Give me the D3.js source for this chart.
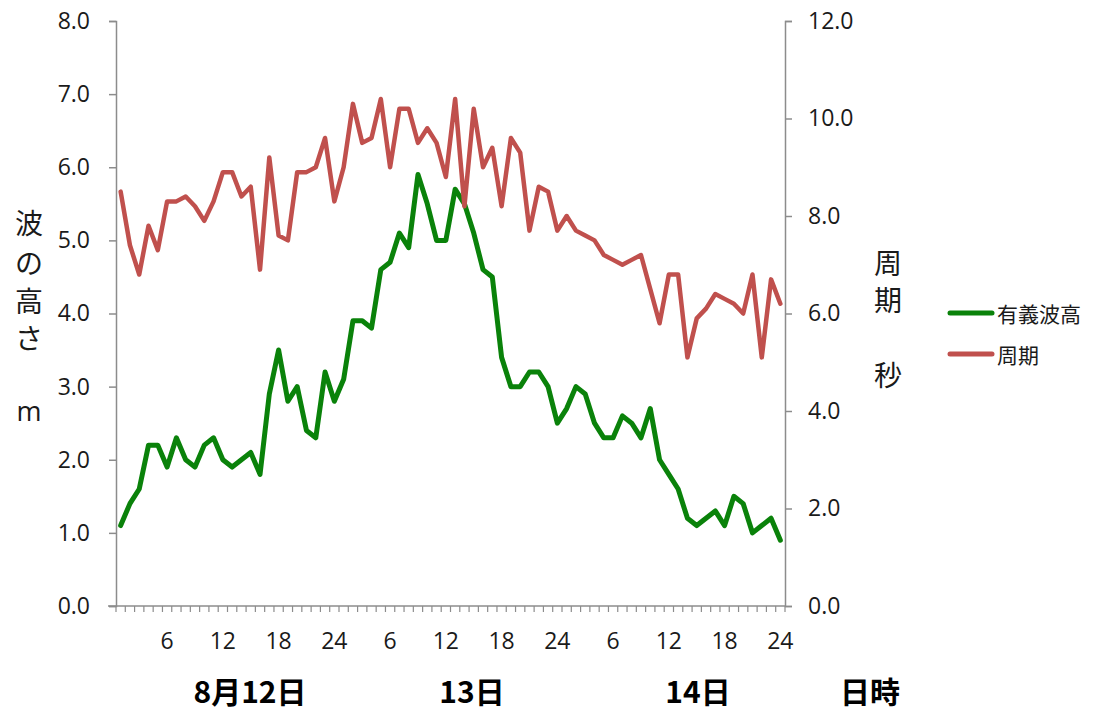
<!DOCTYPE html>
<html><head><meta charset="utf-8">
<script src="https://cdn.jsdelivr.net/npm/d3@7/dist/d3.min.js"></script>
<style>
html,body{margin:0;padding:0;background:#fff;}
svg{display:block;}
</style>
</head><body>
<svg id="chart" width="1101" height="713"></svg>
<script>
// hour of day for each hourly observation (3 days)
const hours = [1,2,3,4,5,6,7,8,9,10,11,12,13,14,15,16,17,18,19,20,21,22,23,24,
               1,2,3,4,5,6,7,8,9,10,11,12,13,14,15,16,17,18,19,20,21,22,23,24,
               1,2,3,4,5,6,7,8,9,10,11,12,13,14,15,16,17,18,19,20,21,22,23,24];
// significant wave height (m)
const waveHeight = [1.1,1.4,1.6,2.2,2.2,1.9,2.3,2.0,1.9,2.2,2.3,2.0,1.9,2.0,2.1,1.8,2.9,3.5,2.8,3.0,2.4,2.3,3.2,2.8,
                    3.1,3.9,3.9,3.8,4.6,4.7,5.1,4.9,5.9,5.5,5.0,5.0,5.7,5.5,5.1,4.6,4.5,3.4,3.0,3.0,3.2,3.2,3.0,2.5,
                    2.7,3.0,2.9,2.5,2.3,2.3,2.6,2.5,2.3,2.7,2.0,1.8,1.6,1.2,1.1,1.2,1.3,1.1,1.5,1.4,1.0,1.1,1.2,0.9];
// wave period (s)
const period = [8.5,7.4,6.8,7.8,7.3,8.3,8.3,8.4,8.2,7.9,8.3,8.9,8.9,8.4,8.6,6.9,9.2,7.6,7.5,8.9,8.9,9.0,9.6,8.3,
                9.0,10.3,9.5,9.6,10.4,9.0,10.2,10.2,9.5,9.8,9.5,8.8,10.4,8.2,10.2,9.0,9.4,8.2,9.6,9.3,7.7,8.6,8.5,7.7,
                8.0,7.7,7.6,7.5,7.2,7.1,7.0,7.1,7.2,6.5,5.8,6.8,6.8,5.1,5.9,6.1,6.4,6.3,6.2,6.0,6.8,5.1,6.7,6.2];
const leftTicks = [0,1,2,3,4,5,6,7,8];
const rightTicks = [0,2,4,6,8,10,12];
const hourLabels = [6,12,18,24];
const dayLabels = ["8月12日","13日","14日","日時"];
const seriesNames = ["有義波高","周期"];

const svg = d3.select("#chart");
const L = 116, R = 785, T = 21, B = 606;
const axisColor = "#8c8c8c";
const textColor = "#1a1a1a";
const numFont = "'Open Sans', 'Noto Sans', sans-serif";
const cjkFont = "'Noto Sans CJK JP', sans-serif";
const green = "#0a820a", red = "#c0504d";

const idx = d3.range(hours.length);
const x = d3.scaleBand().domain(idx).range([L, R]).paddingInner(0).paddingOuter(0);
const cx = i => x(i) + x.bandwidth() / 2;
const yL = d3.scaleLinear().domain([0, 8]).range([B, T]);
const yR = d3.scaleLinear().domain([0, 12]).range([B, T]);

// left axis
const gl = svg.append("g").attr("transform", `translate(${L},0)`)
  .call(d3.axisLeft(yL).tickValues(leftTicks).tickFormat(d3.format(".1f")).tickSize(7).tickPadding(19));
// right axis
const gr = svg.append("g").attr("transform", `translate(${R},0)`)
  .call(d3.axisRight(yR).tickValues(rightTicks).tickFormat(d3.format(".1f")).tickSize(7).tickPadding(16));
[gl, gr].forEach(g => {
  g.select(".domain").attr("stroke", axisColor).attr("stroke-width", 1.5);
  g.selectAll(".tick line").attr("stroke", axisColor).attr("stroke-width", 1.5);
  g.selectAll(".tick text").attr("fill", textColor).style("font-family", numFont).style("font-size", "23px");
});

// bottom axis: tick marks at category boundaries
const gb = svg.append("g").attr("transform", `translate(0,${B})`);
gb.append("line").attr("x1", L - 8).attr("x2", R).attr("y1", 0).attr("y2", 0)
  .attr("stroke", axisColor).attr("stroke-width", 1.5);
gb.selectAll("line.tk").data(idx.concat([idx.length])).enter().append("line").attr("class", "tk")
  .attr("x1", i => i < idx.length ? x(i) : R).attr("x2", i => i < idx.length ? x(i) : R)
  .attr("y1", 0).attr("y2", 6).attr("stroke", axisColor).attr("stroke-width", 1.2);
// hour labels
const gbl = svg.append("g").attr("transform", `translate(0,${B})`)
  .call(d3.axisBottom(x).tickSize(0).tickPadding(27)
    .tickFormat(i => hourLabels.includes(hours[i]) ? String(hours[i]) : ""));
gbl.select(".domain").remove();
gbl.selectAll(".tick text").attr("fill", textColor).style("font-family", numFont).style("font-size", "23px");

// lines
const lineL = d3.line().x((d, i) => cx(i)).y(d => yL(d));
const lineR = d3.line().x((d, i) => cx(i)).y(d => yR(d));
svg.append("path").datum(waveHeight).attr("d", lineL).attr("fill", "none")
  .attr("stroke", green).attr("stroke-width", 5).attr("stroke-linejoin", "round").attr("stroke-linecap", "round");
svg.append("path").datum(period).attr("d", lineR).attr("fill", "none")
  .attr("stroke", red).attr("stroke-width", 4.5).attr("stroke-linejoin", "round").attr("stroke-linecap", "round");

// axis titles
const leftTitle = [["波", 222], ["の", 262], ["高", 300], ["さ", 337]];
leftTitle.forEach(([c, yy]) => svg.append("text").attr("x", 29).attr("y", yy).attr("text-anchor", "middle")
  .attr("dominant-baseline", "central").style("font-family", cjkFont).style("font-size", "28px").attr("fill", textColor).text(c));
svg.append("text").attr("x", 29).attr("y", 410).attr("text-anchor", "middle").attr("dominant-baseline", "central")
  .style("font-family", numFont).style("font-size", "27px").attr("fill", textColor).text("m");
const rightTitle = [["周", 262], ["期", 299], ["秒", 374]];
rightTitle.forEach(([c, yy]) => svg.append("text").attr("x", 888).attr("y", yy).attr("text-anchor", "middle")
  .attr("dominant-baseline", "central").style("font-family", cjkFont).style("font-size", "28px").attr("fill", textColor).text(c));

// legend
const legend = [[seriesNames[0], green, 313], [seriesNames[1], red, 354]];
legend.forEach(([name, col, yy]) => {
  svg.append("line").attr("x1", 950).attr("x2", 992).attr("y1", yy).attr("y2", yy)
    .attr("stroke", col).attr("stroke-width", 5).attr("stroke-linecap", "round");
  svg.append("text").attr("x", 997).attr("y", yy).attr("dominant-baseline", "central")
    .style("font-family", cjkFont).style("font-size", "21px").attr("fill", textColor).text(name);
});

// day labels
const dayPos = [250, 472, 698, 870];
dayLabels.forEach((t, k) => svg.append("text").attr("x", dayPos[k]).attr("y", 703).attr("text-anchor", "middle")
  .style("font-family", cjkFont).style("font-weight", "bold").style("font-size", "30px").attr("fill", "#000").text(t));
</script>
</body></html>
